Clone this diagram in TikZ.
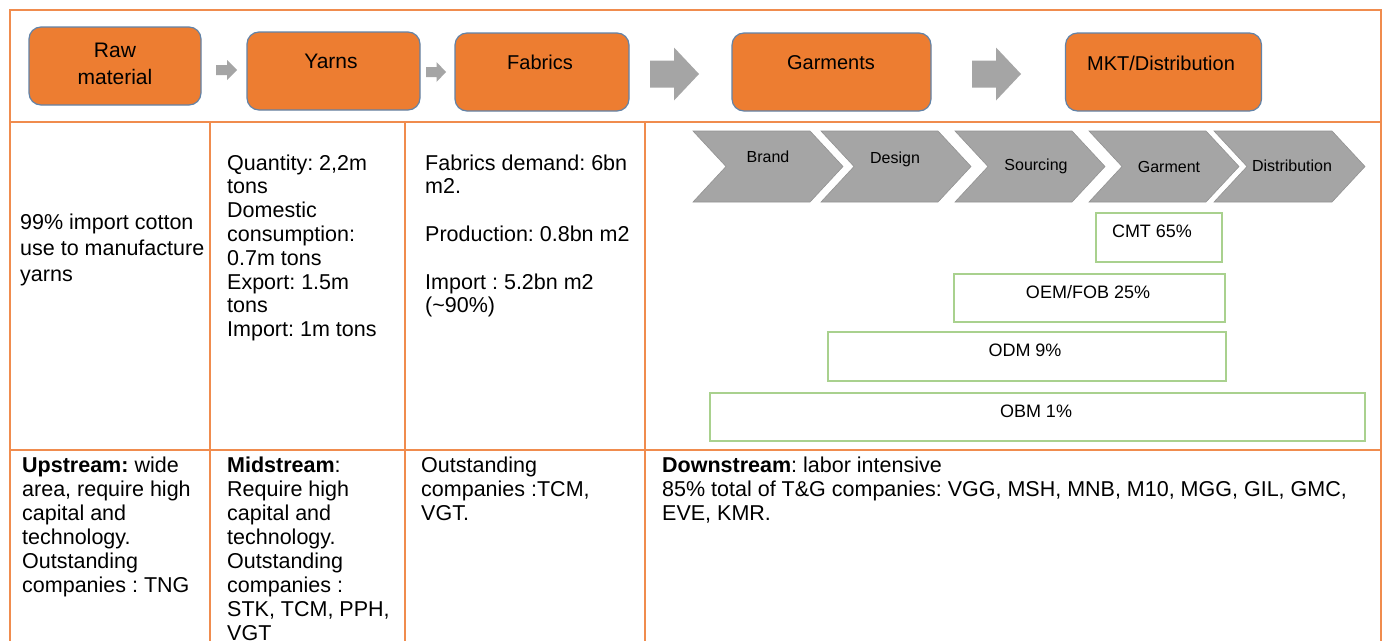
\documentclass[tikz,border=0pt]{standalone}
\usepackage{fontspec}
\setmainfont{Liberation Sans}
\frenchspacing
\definecolor{orfill}{HTML}{ED7D31}
\definecolor{orline}{HTML}{F08C4E}
\definecolor{boxline}{HTML}{6283A8}
\definecolor{arrgray}{HTML}{A5A5A5}
\definecolor{chevline}{HTML}{939393}
\definecolor{grn}{HTML}{A9D18E}
\newcommand\blockarr[6]{%
  \fill[arrgray] (#1,#4-#5) -- (#2,#4-#5) -- (#2,#4-#6) -- (#3,#4) -- (#2,#4+#6) -- (#2,#4+#5) -- (#1,#4+#5) -- cycle;}
\newcommand\chev[2]{%
  \filldraw[chevron] (#1,131) -- ({#1+#2-33},131) -- ({#1+#2},166.5) -- ({#1+#2-33},202) -- (#1,202) -- ({#1+33},166.5) -- cycle;}
\begin{document}
\begin{tikzpicture}[x=1pt,y=-1pt,
  tabline/.style={draw=orline,line width=1.8pt},
  stagebox/.style={draw=boxline,line width=1.2pt,fill=orfill,rounded corners=12pt,inner sep=0pt},
  stagetxt/.style={font=\fontsize{20}{27}\selectfont,align=center,inner sep=0pt},
  chevron/.style={fill=arrgray,draw=chevline,line width=0.6pt},
  chevtxt/.style={font=\fontsize{16}{19}\selectfont,inner sep=0pt},
  grnbox/.style={draw=grn,line width=1.5pt,inner sep=0pt},
  grntxt/.style={font=\fontsize{18}{21}\selectfont,inner sep=0pt},
  cell/.style={font=\fontsize{21.5}{23.8}\selectfont,align=left,inner sep=0pt,anchor=base west},
  cellb/.style={font=\fontsize{21.5}{24}\selectfont,align=left,inner sep=0pt,anchor=base west}
]
\useasboundingbox (0,0) rectangle (1383,640);
\fill[white] (0,0) rectangle (1383,640);
\begin{scope}
\clip (0,0) rectangle (1383,640);
% table lines
\draw[tabline] (10,10) rectangle (1381,122);
\draw[tabline] (10,122) -- (10,660);
\draw[tabline] (210,122) -- (210,660);
\draw[tabline] (405,122) -- (405,660);
\draw[tabline] (645,122) -- (645,660);
\draw[tabline] (1381,122) -- (1381,660);
\draw[tabline] (10,450) -- (1381,450);

% stage boxes
\node[stagebox,minimum width=172pt,minimum height=78pt] (raw) at (115,66) {};
\node[stagebox,minimum width=173pt,minimum height=78pt] (yarns) at (333.5,71) {};
\node[stagebox,minimum width=174pt,minimum height=78pt] (fabrics) at (542,72) {};
\node[stagebox,minimum width=199pt,minimum height=78pt] (garments) at (831.5,72) {};
\node[stagebox,minimum width=196pt,minimum height=78pt] (mkt) at (1163.5,72) {};
\node[stagetxt,font=\fontsize{21}{27}\selectfont] (rawT) at (115,64) {Raw\\material};
\node[stagetxt,font=\fontsize{21}{27}\selectfont] (yarnsT) at (331,61) {Yarns};
\node[stagetxt] (fabricsT) at (540,62) {Fabrics};
\node[stagetxt] (garmentsT) at (831,63) {Garments};
\node[stagetxt] (mktT) at (1161,63) {MKT/Distribution};

% block arrows
\blockarr{216}{227}{237}{70}{5}{10}
\blockarr{426}{436.5}{446}{72}{5}{10}
\blockarr{650}{674}{699}{74}{13.5}{26.5}
\blockarr{972}{996}{1021}{74}{13.5}{26.5}

% chevrons
\chev{693}{150}
\chev{821}{150}
\chev{955}{150}
\chev{1089}{150}
\chev{1214}{151}
\node[chevtxt] (brand) at (768,157) {Brand};
\node[chevtxt] (design) at (895,159) {Design};
\node[chevtxt] (sourcing) at (1036,166) {Sourcing};
\node[chevtxt] (garment) at (1169,167) {Garment};
\node[chevtxt] (distr) at (1292,166) {Distribution};

% green boxes
\draw[grnbox] (1096,213) rectangle (1222,262);
\draw[grnbox] (954,274) rectangle (1225,322);
\draw[grnbox] (828,332) rectangle (1226,381);
\draw[grnbox] (710,393) rectangle (1365,441);
\node[grntxt] (cmt) at (1152,231) {CMT 65\%};
\node[grntxt] (oem) at (1088,292) {OEM/FOB 25\%};
\node[grntxt] (odm) at (1025,350) {ODM 9\%};
\node[grntxt] (obm) at (1036,411) {OBM 1\%};

% row 1 texts (base anchor = baseline of last line)
\node[cell,font=\fontsize{21.5}{26}\selectfont] (c11) at (20,281) {99\% import cotton\\use to manufacture\\yarns};
\node[cell] (c12) at (227,336.6) {Quantity: 2,2m\\tons\\Domestic\\consumption:\\0.7m tons\\Export: 1.5m\\tons\\Import: 1m tons};
\node[cell] (c13) at (425,312.8) {Fabrics demand: 6bn\\m2.\\[23.8pt]Production: 0.8bn m2\\[23.8pt]Import : 5.2bn m2\\(\textasciitilde90\%)};

% row 2 texts
\node[cellb] (c21) at (22,592) {\textbf{Upstream:} wide\\area, require high\\capital and\\technology.\\Outstanding\\companies : TNG};
\node[cellb] (c22) at (227,640) {\textbf{Midstream}:\\Require high\\capital and\\technology.\\Outstanding\\companies :\\STK, TCM, PPH,\\VGT};
\node[cellb] (c23) at (421,520) {Outstanding\\companies :TCM,\\VGT.};
\node[cellb] (c24) at (662,520) {\textbf{Downstream}: labor intensive\\85\% total of T\&G companies: VGG, MSH, MNB, M10, MGG, GIL, GMC,\\EVE, KMR.};
\end{scope}
\end{tikzpicture}
\end{document}
